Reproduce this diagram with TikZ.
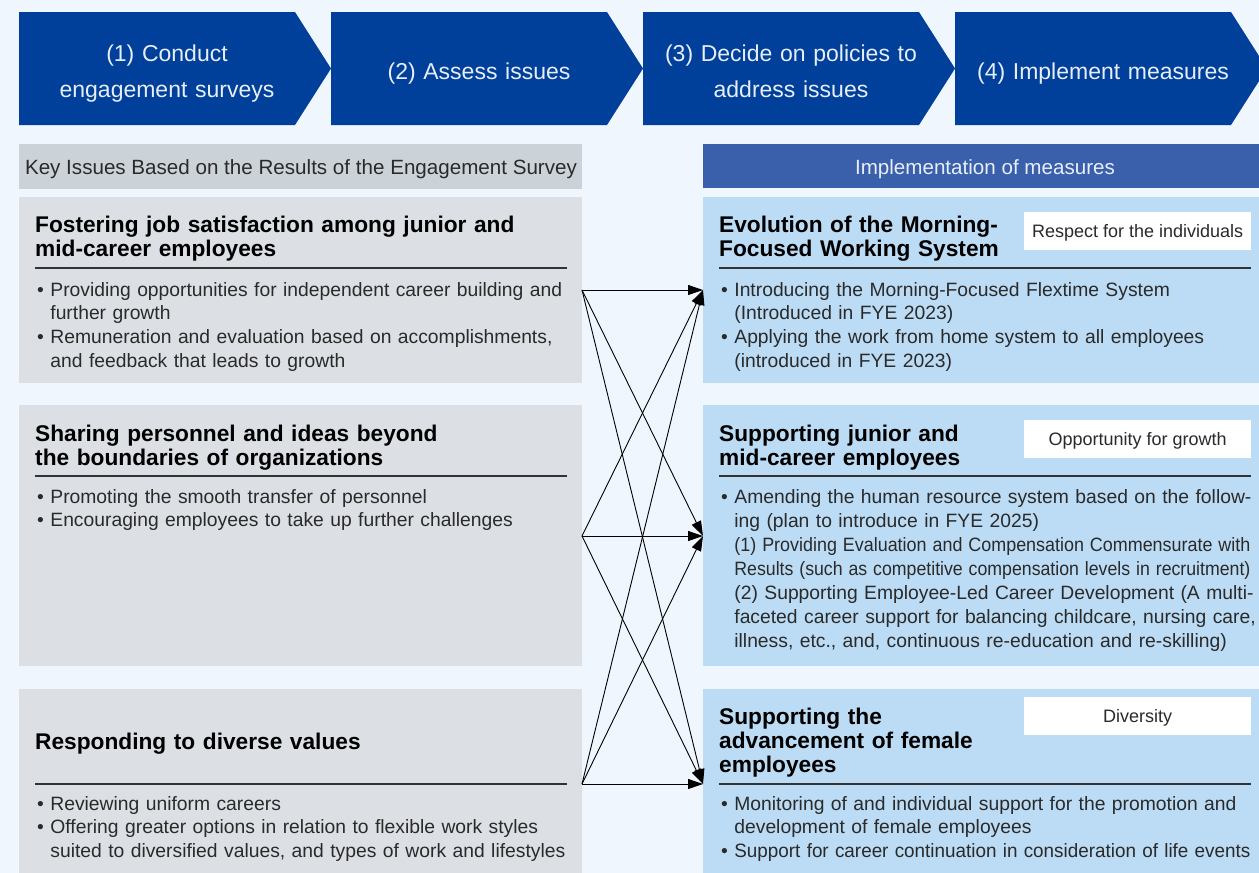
\documentclass[tikz,border=0pt]{standalone}
\usepackage{fontspec}
\usepackage{graphicx}
\setmainfont{Liberation Sans}
\usetikzlibrary{arrows.meta}
\definecolor{bg}{HTML}{EFF6FD}
\definecolor{chev}{HTML}{00409A}
\definecolor{chevtext}{HTML}{E8EEF7}
\definecolor{lhead}{HTML}{CCD3D8}
\definecolor{lbox}{HTML}{DCE0E4}
\definecolor{rhead}{HTML}{3A60AC}
\definecolor{rbox}{HTML}{BBDCF4}
\definecolor{rulec}{HTML}{333333}
\definecolor{txt}{HTML}{2A2A2A}
\newcommand{\bulind}{\hphantom{\textbullet\ }}
\newcommand{\sqzline}[1]{\resizebox{516pt}{\height}{#1}}
\begin{document}
\begin{tikzpicture}[x=1pt,y=-1pt,
  chevlbl/.style={anchor=base,text=chevtext,text width=300pt,align=center,inner sep=0pt,font=\fontsize{23}{36}\selectfont},
  boxst/.style={anchor=north west,inner sep=0pt,draw=none},
  body/.style={anchor=base west,inner sep=0pt,text width=700pt,align=left,text=txt,font=\fontsize{19.3}{23.7}\selectfont},
  ttl/.style={anchor=base west,inner sep=0pt,text width=700pt,align=left,text=black,font=\bfseries\fontsize{22.7}{24}\selectfont},
  tag/.style={anchor=north west,fill=white,inner sep=0pt,minimum width=227pt,minimum height=38pt,text height=13pt,text depth=0pt,text=txt,font=\fontsize{18}{20}\selectfont},
  headlbl/.style={anchor=base,inner sep=0pt,font=\fontsize{20.6}{24}\selectfont},
  rulest/.style={draw=rulec,line width=1.1pt},
  arr/.style={draw=black,line width=0.9pt,-{Triangle[length=15pt,width=10pt]}}]
\useasboundingbox (0,0) rectangle (1259,873);
\clip (0,0) rectangle (1259,873);
\fill[bg] (0,0) rectangle (1259,873);

% chevrons
\foreach \x in {19,331,643,955}{
  \fill[chev] (\x,12) -- (\x+276,12) -- (\x+312,68.5) -- (\x+276,125) -- (\x,125) -- cycle;
}
\node[chevlbl] (c1) at (167,61) {(1) Conduct\\engagement surveys};
\node[chevlbl] (c2) at (479,79) {(2) Assess issues};
\node[chevlbl] (c3) at (791,61) {(3) Decide on policies to\\address issues};
\node[chevlbl] (c4) at (1103,79) {(4) Implement measures};

% headers
\node[boxst,fill=lhead,minimum width=563pt,minimum height=45pt] (lh) at (19,144) {};
\node[headlbl,text=txt] (lht) at (301,174) {Key Issues Based on the Results of the Engagement Survey};
\node[boxst,fill=rhead,minimum width=560pt,minimum height=44pt] (rh) at (703,144) {};
\node[headlbl,text=chevtext] (rht) at (985,174) {Implementation of measures};

% left boxes
\node[boxst,fill=lbox,minimum width=563pt,minimum height=186pt] (L1) at (19,197) {};
\node[boxst,fill=lbox,minimum width=563pt,minimum height=261pt] (L2) at (19,405) {};
\node[boxst,fill=lbox,minimum width=563pt,minimum height=190pt] (L3) at (19,689) {};
% right boxes
\node[boxst,fill=rbox,minimum width=560pt,minimum height=186pt] (R1) at (703,197) {};
\node[boxst,fill=rbox,minimum width=560pt,minimum height=261pt] (R2) at (703,405) {};
\node[boxst,fill=rbox,minimum width=560pt,minimum height=190pt] (R3) at (703,689) {};

% left contents
\node[ttl] (L1t) at (35,232) {Fostering job satisfaction among junior and\\mid-career employees};
\draw[rulest] (35,268) -- (567,268);
\node[body] (L1b) at (37,296) {\textbullet\ Providing opportunities for independent career building and\\\bulind further growth\\\textbullet\ Remuneration and evaluation based on accomplishments,\\\bulind and feedback that leads to growth};

\node[ttl] (L2t) at (35,441) {Sharing personnel and ideas beyond\\the boundaries of organizations};
\draw[rulest] (35,476) -- (567,476);
\node[body] (L2b) at (37,503) {\textbullet\ Promoting the smooth transfer of personnel\\\textbullet\ Encouraging employees to take up further challenges};

\node[ttl] (L3t) at (35,749) {Responding to diverse values};
\draw[rulest] (35,784) -- (567,784);
\node[body] (L3b) at (37,810) {\textbullet\ Reviewing uniform careers\\\textbullet\ Offering greater options in relation to flexible work styles\\\bulind suited to diversified values, and types of work and lifestyles};

% right contents
\node[ttl] (R1t) at (719,232) {Evolution of the Morning-\\Focused Working System};
\node[tag] (R1g) at (1024,212) {Respect for the individuals};
\draw[rulest] (719,268) -- (1251,268);
\node[body] (R1b) at (721,296) {\textbullet\ Introducing the Morning-Focused Flextime System\\\bulind (Introduced in FYE 2023)\\\textbullet\ Applying the work from home system to all employees\\\bulind (introduced in FYE 2023)};

\node[ttl] (R2t) at (719,441) {Supporting junior and\\mid-career employees};
\node[tag] (R2g) at (1024,420) {Opportunity for growth};
\draw[rulest] (719,476) -- (1251,476);
\node[body,font=\fontsize{19.3}{24}\selectfont] (R2b) at (721,503) {\textbullet\ Amending the human resource system based on the follow-\\\bulind ing (plan to introduce in FYE 2025)\\\bulind \sqzline{(1) Providing Evaluation and Compensation Commensurate with}\\\bulind \sqzline{Results (such as competitive compensation levels in recruitment)}\\\bulind (2) Supporting Employee-Led Career Development (A multi-\\\bulind faceted career support for balancing childcare, nursing care,\\\bulind illness, etc., and, continuous re-education and re-skilling)};

\node[ttl] (R3t) at (719,724) {Supporting the\\advancement of female\\employees};
\node[tag] (R3g) at (1024,697) {Diversity};
\draw[rulest] (719,784) -- (1251,784);
\node[body] (R3b) at (721,810) {\textbullet\ Monitoring of and individual support for the promotion and\\\bulind development of female employees\\\textbullet\ \sqzline{Support for career continuation in consideration of life events}};

% connectors
\coordinate (s1) at (582,290);
\coordinate (s2) at (582,536);
\coordinate (s3) at (582,784);
\coordinate (t1) at (703,290);
\coordinate (t2) at (703,536);
\coordinate (t3) at (703,784);
\foreach \s in {s1,s2,s3}{
  \foreach \t in {t1,t2,t3}{
    \draw[arr] (\s) -- (\t);
  }
}
\end{tikzpicture}
\end{document}
